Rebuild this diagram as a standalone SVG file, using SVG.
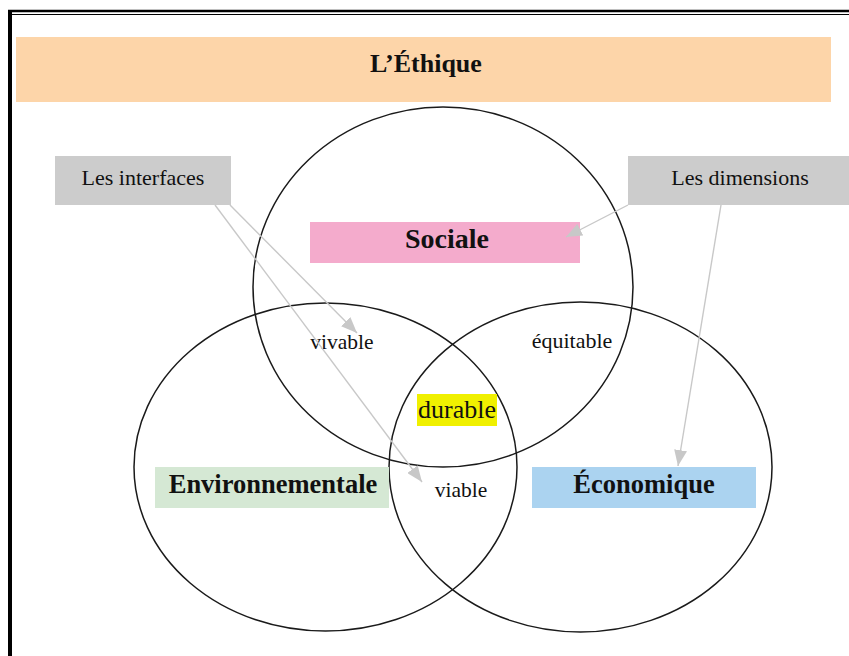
<svg xmlns="http://www.w3.org/2000/svg" width="849" height="656" viewBox="0 0 849 656">
<defs>
<style>
.ring{fill:none;stroke:#1a1a1a;stroke-width:1.5}
.conn{fill:none;stroke:#c8c8c8;stroke-width:1.4}
.bold{font-family:"Liberation Serif","Times New Roman",serif;font-weight:bold;fill:#111;text-anchor:middle}
.reg{font-family:"Liberation Serif","Times New Roman",serif;fill:#111;text-anchor:middle}
</style>
<marker id="ah" markerUnits="userSpaceOnUse" markerWidth="17" markerHeight="13" refX="16" refY="6.5" orient="auto" viewBox="0 0 17 13">
<path d="M0,0 L16,6.5 L0,13 z" fill="#c8c8c8"/>
</marker>
</defs>
<rect x="0" y="0" width="849" height="656" fill="#ffffff"/>
<g id="frame">
<line x1="8" y1="11" x2="849" y2="11" stroke="#000" stroke-width="2.4"/>
<line x1="12" y1="14.5" x2="849" y2="14.5" stroke="#000" stroke-width="1.2"/>
<rect x="8" y="10" width="4" height="646" fill="#000"/>
</g>
<g id="title">
<rect x="16" y="37" width="815" height="65" fill="#fdd5a9"/>
<text class="bold" x="426" y="72" font-size="26">L’Éthique</text>
</g>
<g id="circles">
<ellipse id="circle-sociale" class="ring" cx="443" cy="287" rx="190" ry="180"/>
<ellipse id="circle-environnementale" class="ring" cx="325.5" cy="467" rx="191.5" ry="164"/>
<ellipse id="circle-economique" class="ring" cx="580.5" cy="467" rx="191.5" ry="165"/>
</g>
<g id="sociale">
<rect x="310" y="222" width="270" height="41" fill="#f4abcc"/>
<text class="bold" x="447" y="248" font-size="28">Sociale</text>
</g>
<g id="environnementale">
<rect x="155" y="467" width="234" height="41" fill="#d5e8d4"/>
<text class="bold" x="273" y="493" font-size="26.5">Environnementale</text>
</g>
<g id="economique">
<rect x="532" y="467" width="224" height="41" fill="#abd3f0"/>
<text class="bold" x="644" y="493" font-size="26.5">Économique</text>
</g>
<g id="les-interfaces">
<rect x="55" y="156" width="176" height="49" fill="#cccccc"/>
<text class="reg" x="143" y="185" font-size="22">Les interfaces</text>
</g>
<g id="les-dimensions">
<rect x="628" y="156" width="221" height="49" fill="#cccccc"/>
<text class="reg" x="740" y="185" font-size="22">Les dimensions</text>
</g>
<g id="vivable">
<text class="reg" x="342" y="349" font-size="21.5">vivable</text>
</g>
<g id="equitable">
<text class="reg" x="572" y="348" font-size="22">équitable</text>
</g>
<g id="durable">
<rect x="417" y="394" width="80" height="32" fill="#f0f000"/>
<text class="reg" x="457" y="418" font-size="26">durable</text>
</g>
<g id="viable">
<text class="reg" x="461" y="497" font-size="21.5">viable</text>
</g>
<g id="connectors">
<line class="conn" x1="230" y1="205" x2="357" y2="333" marker-end="url(#ah)"/>
<line class="conn" x1="215" y1="205" x2="422" y2="482" marker-end="url(#ah)"/>
<line class="conn" x1="628" y1="205" x2="566" y2="237" marker-end="url(#ah)"/>
<line class="conn" x1="721" y1="205" x2="678" y2="466" marker-end="url(#ah)"/>
</g>
</svg>
